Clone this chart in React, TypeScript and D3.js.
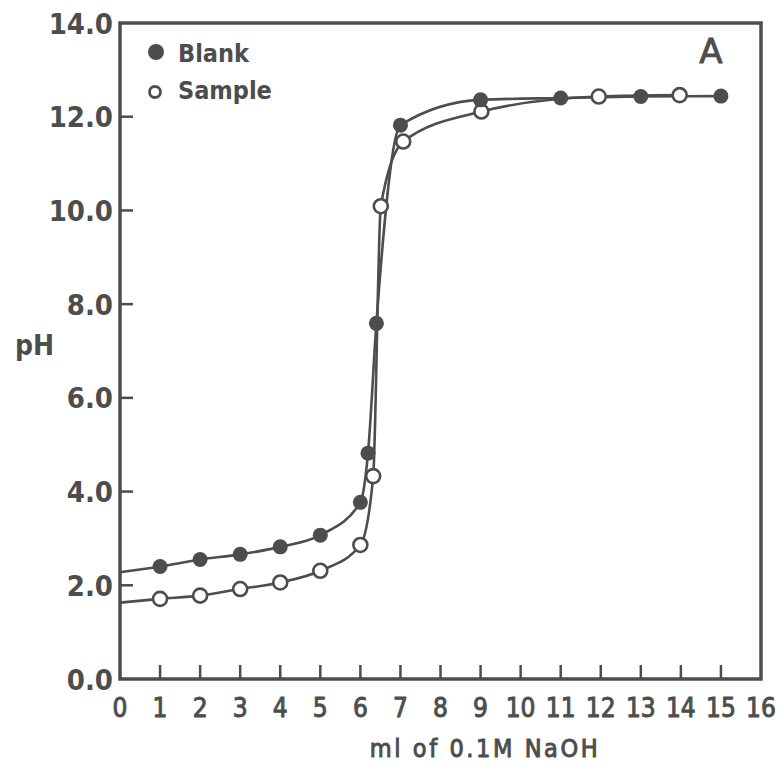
import React from "react";
import * as d3 from "d3";

// Blank (filled circles)
const blankX = [1, 2, 3, 4, 5, 6, 6.19, 6.4, 7, 9, 11, 13, 15];
const blankY = [2.4, 2.55, 2.66, 2.82, 3.07, 3.77, 4.82, 7.59, 11.82, 12.36, 12.4, 12.43, 12.44];
// Sample (open circles)
const sampleX = [1, 2, 3, 4, 5, 6, 6.32, 6.51, 7.07, 9.02, 11.95, 13.97];
const sampleY = [1.71, 1.78, 1.92, 2.06, 2.31, 2.86, 4.33, 10.09, 11.47, 12.11, 12.43, 12.46];
// curve start values at x = 0 (no marker)
const blankStart = 2.28;
const sampleStart = 1.63;

const xTicks = d3.range(0, 17);
const yTicks = [0, 2, 4, 6, 8, 10, 12, 14];

const W = 777;
const H = 766;
const left = 120, right = 761, top = 23, bottom = 679;
const ink = "#4d4d4d";
const font = "'DejaVu Sans Condensed', 'DejaVu Sans', sans-serif";

export default function App() {
  const x = d3.scaleLinear().domain([0, 16]).range([left, right]);
  const y = d3.scaleLinear().domain([0, 14]).range([bottom, top]);
  const line = d3
    .line<[number, number]>()
    .x((d) => x(d[0]))
    .y((d) => y(d[1]))
    .curve(d3.curveMonotoneX);

  const blankPts: [number, number][] = [[0, blankStart], ...blankX.map((v, i) => [v, blankY[i]] as [number, number])];
  const samplePts: [number, number][] = [[0, sampleStart], ...sampleX.map((v, i) => [v, sampleY[i]] as [number, number])];

  const txt = { fontFamily: font, fontStretch: "condensed", fill: ink } as const;
  const thick = { stroke: ink, strokeWidth: 0.9 } as const;

  return (
    <svg width={W} height={H} style={{ position: "absolute", left: 0, top: 0, background: "#fff" }}>
      <rect x={0} y={0} width={W} height={H} fill="#fff" />
      {/* curves */}
      <path d={line(blankPts) || ""} fill="none" stroke={ink} strokeWidth={2.6} />
      <path d={line(samplePts) || ""} fill="none" stroke={ink} strokeWidth={2.6} />
      {/* markers */}
      {sampleX.map((v, i) => (
        <circle key={"s" + i} cx={x(v)} cy={y(sampleY[i])} r={7} fill="#fff" stroke={ink} strokeWidth={2.6} />
      ))}
      {blankX.map((v, i) => (
        <circle key={"b" + i} cx={x(v)} cy={y(blankY[i])} r={7.5} fill={ink} />
      ))}
      {/* frame */}
      <rect x={left} y={top} width={right - left} height={bottom - top} fill="none" stroke={ink} strokeWidth={3.5} />
      {/* x ticks */}
      {xTicks.map((t) => (
        <g key={"xt" + t}>
          {t > 0 && t < 16 && <line x1={x(t)} x2={x(t)} y1={bottom} y2={bottom - 14} stroke={ink} strokeWidth={2.5} />}
          <text x={x(t)} y={717} textAnchor="middle" fontSize={26} {...txt} {...thick}>
            {t}
          </text>
        </g>
      ))}
      {/* y ticks */}
      {yTicks.map((t) => (
        <g key={"yt" + t}>
          {t > 0 && t < 14 && <line x1={left} x2={left + 13} y1={y(t)} y2={y(t)} stroke={ink} strokeWidth={2.5} />}
          <text x={113} y={y(t) + 10.5} textAnchor="end" fontSize={29} fontWeight={600} {...txt}>
            {t.toFixed(1)}
          </text>
        </g>
      ))}
      {/* axis titles */}
      <text x={485} y={757} textAnchor="middle" fontSize={25} letterSpacing={2.6} {...txt} {...thick}>
        ml of 0.1M NaOH
      </text>
      <text x={15} y={355} textAnchor="start" fontSize={28} fontWeight={600} {...txt}>
        pH
      </text>
      {/* legend */}
      <circle cx={156} cy={52} r={8} fill={ink} />
      <text x={178} y={62} fontSize={25} fontWeight={600} {...txt}>Blank</text>
      <circle cx={155} cy={92} r={5.5} fill="#fff" stroke={ink} strokeWidth={2.8} />
      <text x={178} y={99} fontSize={25} fontWeight={600} {...txt}>Sample</text>
      <text x={711} y={63} textAnchor="middle" fontSize={34} fontFamily="'DejaVu Sans', sans-serif" fill={ink} {...thick}>A</text>
    </svg>
  );
}
